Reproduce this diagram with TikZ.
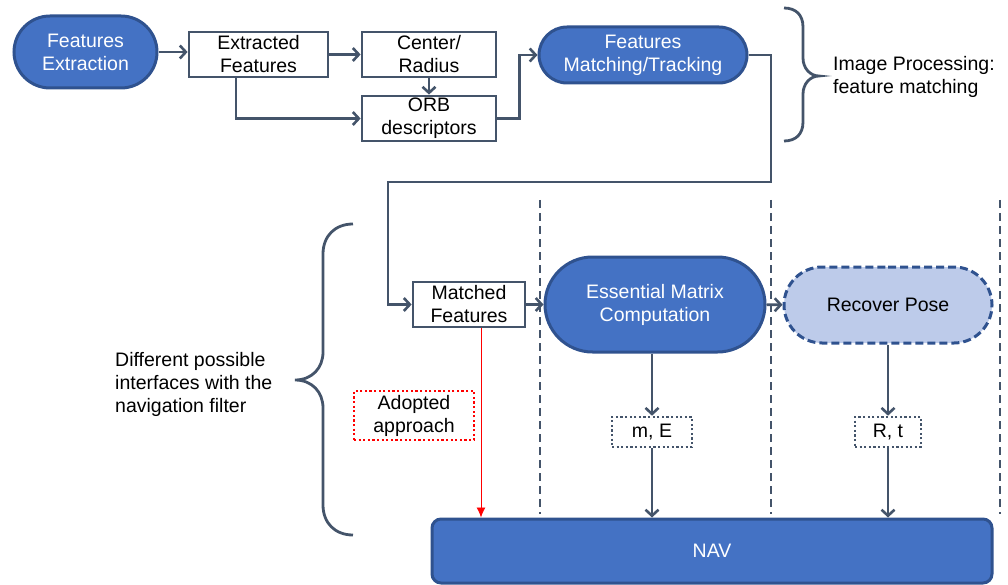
\documentclass[tikz,border=0pt]{standalone}
\usepackage{fontspec}
\setmainfont{Liberation Sans}
\usetikzlibrary{shapes.misc,arrows.meta}
\definecolor{blu}{HTML}{4472C4}
\definecolor{bord}{HTML}{2F528F}
\definecolor{slate}{HTML}{44546A}
\definecolor{lblu}{HTML}{BDCBEA}
\begin{document}
\begin{tikzpicture}[x=1pt,y=-1pt,
 txt/.style={font=\fontsize{19.5}{23}\selectfont, align=center, inner sep=0pt},
 stad/.style={rounded rectangle, fill=blu, draw=bord, line width=3pt, text=white, txt},
 box/.style={rectangle, draw=slate, line width=2.8pt, fill=white, txt},
 dbox/.style={rectangle, draw=slate, line width=2.6pt, dash pattern=on 2.2pt off 2.4pt, txt},
 conn/.style={draw=slate, line width=2.8pt, -{Straight Barb[length=6pt,width=13pt,line width=2.6pt]}},
 sep/.style={draw=slate, line width=2.6pt, dash pattern=on 8pt off 5pt},
 brace/.style={draw=slate, line width=2.8pt}]
\useasboundingbox (0,0) rectangle (1008,585);

% nodes
\node[stad, minimum width=143pt, minimum height=72pt] (fe) at (85.5,52) {Features\\Extraction};
\node[box, minimum width=139pt, minimum height=45pt] (ef) at (258.5,54.5) {Extracted\\Features};
\node[box, minimum width=134pt, minimum height=45pt] (cr) at (429,54.5) {Center/\\Radius};
\node[box, minimum width=134pt, minimum height=45pt] (orb) at (429,118.5) {ORB\\descriptors};
\node[stad, minimum width=208pt, minimum height=56pt] (fm) at (643,55) {Features\\Matching/Tracking};
\node[anchor=west, txt, align=left] (ip) at (833,77) {Image Processing:\\feature matching};

\node[box, minimum width=112pt, minimum height=45pt] (mf) at (469,304.5) {Matched\\Features};
\node[stad, minimum width=220pt, minimum height=95pt] (em) at (655,304.5) {Essential Matrix\\Computation};
\node[rounded rectangle, fill=lblu, draw=bord, line width=3pt, dash pattern=on 8pt off 4pt, txt,
      minimum width=208pt, minimum height=76pt] (rp) at (888,305) {Recover Pose};
\node[dbox, minimum width=80pt, minimum height=30pt] (me) at (652,432) {m, E};
\node[dbox, minimum width=66pt, minimum height=30pt] (rt) at (888,432) {R, t};
\node[rectangle, draw=red, line width=2.6pt, dash pattern=on 2.2pt off 2.4pt, txt, minimum width=120pt, minimum height=49pt] (ad) at (414,415.5) {Adopted\\approach};
\node[rectangle, rounded corners=9pt, fill=blu, draw=bord, line width=3pt, text=white, txt,
      minimum width=560pt, minimum height=64pt] (nav) at (712,551) {NAV};
\node[anchor=west, txt, align=left] (dp) at (115,384) {Different possible\\interfaces with the\\navigation filter};

% separators
\draw[sep] (540,200) -- (540,514);
\draw[sep] (771,200) -- (771,514);
\draw[sep] (1000,200) -- (1000,514);

% connectors
\coordinate (k1) at (771,182);
\coordinate (k2) at (388,182);
\coordinate (rx) at (481,0);
\draw[conn] (fe.east) -- (fe.east -| ef.west);
\draw[conn] (ef.east) -- (cr.west);
\draw[conn] ([xshift=-22.5pt]ef.south) |- (orb.west);
\draw[conn] (cr) -- (orb);
\draw[conn] (orb.east) -- ++(22,0) |- (fm.west);
\draw[conn] (fm.east) -| (k1) -- (k2) |- (mf.west);
\draw[conn] (mf) -- (em);
\draw[conn] (em) -- (rp);
\draw[conn] (em.south -| me.north) -- (me.north);
\draw[conn] (me.south) -- (me.south |- nav.north);
\draw[conn] (rt.north |- rp.south) -- (rt.north);
\draw[conn] (rt.south) -- (rt.south |- nav.north);
\draw[red, line width=0.9pt, -{Latex[length=10pt,width=9pt]}] (mf.south -| rx) -- (nav.north -| rx);

% braces
\draw[brace] (353,224) .. controls (335,224) and (323,236) .. (323,254) -- (323,352)
  .. controls (323,368) and (312,380) .. (295,380)
  .. controls (312,380) and (323,392) .. (323,408) -- (323,505)
  .. controls (323,523) and (335,535) .. (353,535);
\draw[brace] (784,8) .. controls (796,8) and (803,15) .. (803,27) -- (803,58)
  .. controls (803,68) and (810,76) .. (819,76)
  .. controls (810,76) and (803,84) .. (803,94) -- (803,122)
  .. controls (803,134) and (796,141) .. (784,141);
\end{tikzpicture}
\end{document}
